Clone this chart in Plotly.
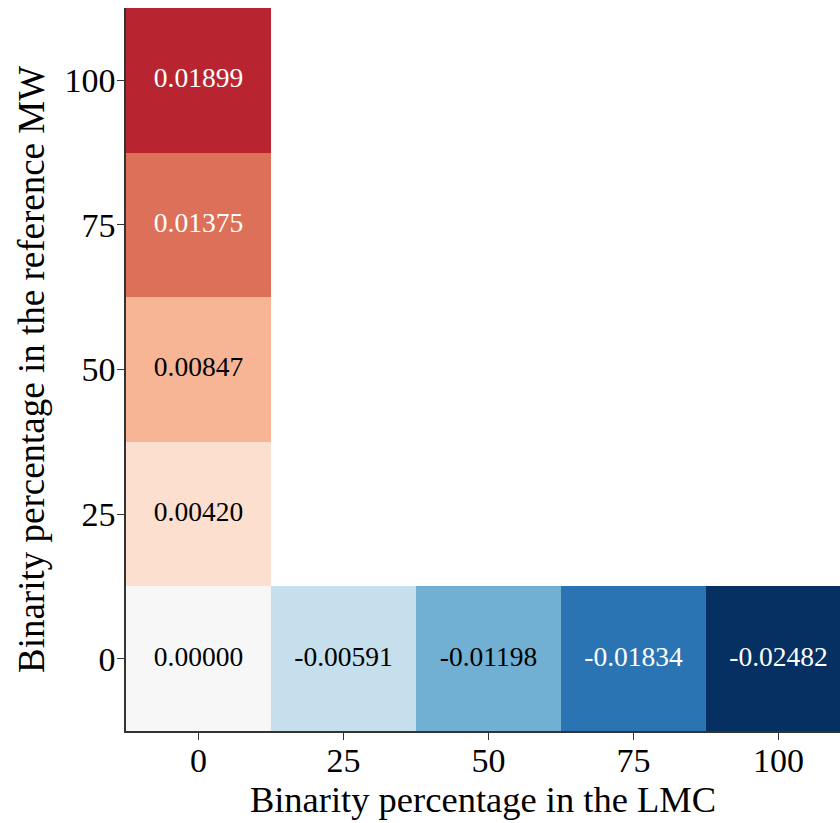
import plotly.graph_objects as go

lmc_labels = ["0", "25", "50", "75", "100"]
mw_labels = ["0", "25", "50", "75", "100"]

# rows = MW binarity (0..100), cols = LMC binarity (0..100)
z = [
    [0.00000, -0.00591, -0.01198, -0.01834, -0.02482],
    [0.00420, None, None, None, None],
    [0.00847, None, None, None, None],
    [0.01375, None, None, None, None],
    [0.01899, None, None, None, None],
]

rdbu_r = ["#053061", "#2166ac", "#4393c3", "#92c5de", "#d1e5f0", "#f7f7f7",
          "#fddbc7", "#f4a582", "#d6604d", "#b2182b", "#67001f"]
colorscale = [[i / 10, c] for i, c in enumerate(rdbu_r)]
vmax = 0.02482

FONT = "Liberation Serif"

fig = go.Figure()
fig.add_trace(go.Heatmap(
    z=z, x=list(range(5)), y=list(range(5)),
    colorscale=colorscale, zmin=-vmax, zmax=vmax,
    showscale=False, hoverongaps=False,
))

tx, ty, tt, tc = [], [], [], []
for i, row in enumerate(z):
    for j, v in enumerate(row):
        if v is None:
            continue
        tx.append(j)
        ty.append(i)
        tt.append(f"{v:.5f}")
        tc.append("white" if abs(v) / vmax > 0.5 else "black")

fig.add_trace(go.Scatter(
    x=tx, y=ty, text=tt, mode="text",
    textfont=dict(family=FONT, size=27.5, color=tc),
    hoverinfo="skip", showlegend=False,
))

fig.update_layout(
    width=840, height=823,
    margin=dict(l=126, r=0, t=7.6, b=91.6),
    paper_bgcolor="white", plot_bgcolor="white",
    font=dict(family=FONT, size=36, color="black"),
    showlegend=False,
)
fig.update_xaxes(
    range=[-0.5, 4.424], tickmode="array", tickvals=list(range(5)), ticktext=lmc_labels,
    showgrid=False, zeroline=False, showline=True, linecolor="#333", linewidth=1.5,
    ticks="outside", ticklen=7, tickwidth=1.3, tickcolor="#333",
    tickfont=dict(size=34), ticklabelstandoff=-9,
    title=dict(text="Binarity percentage in the LMC", font=dict(size=36.5), standoff=4),
)
fig.update_yaxes(
    range=[-0.5, 4.5], tickmode="array", tickvals=list(range(5)), ticktext=mw_labels,
    showgrid=False, zeroline=False, showline=True, linecolor="#333", linewidth=1.5,
    ticks="outside", ticklen=7, tickwidth=1.3, tickcolor="#333",
    tickfont=dict(size=34), ticklabelstandoff=-5,
    title=dict(text="Binarity percentage in the reference MW", font=dict(size=37), standoff=9),
)

fig.write_html(
    "out.html",
    config={"displayModeBar": False},
    post_script="document.body.style.margin='0';document.body.style.overflow='hidden';",
)
